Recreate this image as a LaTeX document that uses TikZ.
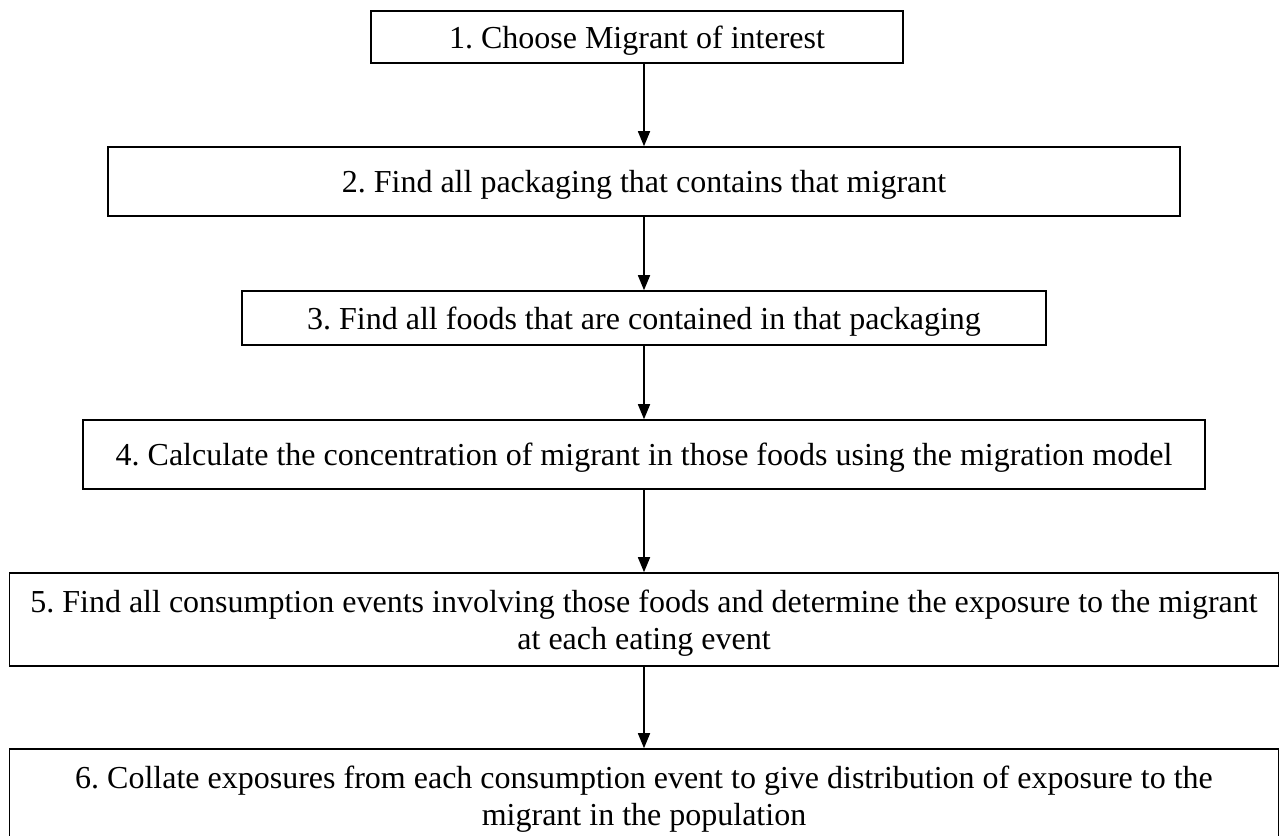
\documentclass[tikz,border=0pt]{standalone}
\usepackage{fontspec}
\setmainfont{Liberation Serif}
\usetikzlibrary{arrows.meta}
\frenchspacing

\begin{document}
\begin{tikzpicture}[x=1pt, y=-1pt, font=\fontsize{32}{37}\selectfont,
  stepbox/.style={draw, line width=1.6pt, align=center, inner sep=0pt, text depth=0pt},
  flow/.style={line width=1.6pt, -{Triangle[length=15pt, width=12pt]}}]

\def\xC{644}

\useasboundingbox (0,0) rectangle (1284,835);

\node[stepbox, minimum width=532, minimum height=52] (s1) at (637,37)
  {1. Choose Migrant of interest};
\node[stepbox, minimum width=1072, minimum height=69] (s2) at (\xC,181.5)
  {2. Find all packaging that contains that migrant};
\node[stepbox, minimum width=804, minimum height=54] (s3) at (\xC,318)
  {3. Find all foods that are contained in that packaging};
\node[stepbox, minimum width=1122, minimum height=69] (s4) at (\xC,454.5)
  {4. Calculate the concentration of migrant in those foods using the migration model};
\node[stepbox, minimum width=1269, minimum height=93] (s5) at (\xC,619.5)
  {5. Find all consumption events involving those foods and determine the exposure to the migrant\\
   at each eating event};
\node[stepbox, minimum width=1269, minimum height=93] (s6) at (\xC,795.5)
  {6. Collate exposures from each consumption event to give distribution of exposure to the\\
   migrant in the population};

\draw[flow] (s1.south -| s2.north) -- (s2.north);
\draw[flow] (s2.south) -- (s3.north);
\draw[flow] (s3.south) -- (s4.north);
\draw[flow] (s4.south) -- (s5.north);
\draw[flow] (s5.south) -- (s6.north);

\end{tikzpicture}
\end{document}
